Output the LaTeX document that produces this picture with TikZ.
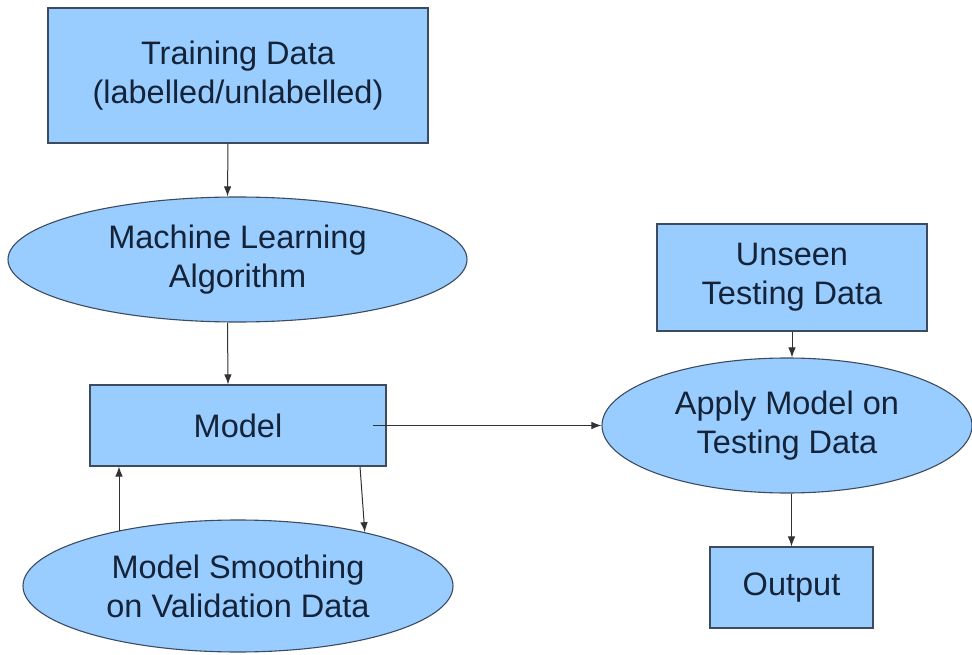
\documentclass[tikz,border=0pt]{standalone}
\usepackage{fontspec}
\setmainfont{Liberation Sans}
\usetikzlibrary{shapes.geometric,arrows.meta}
\definecolor{boxfill}{RGB}{153,204,255}
\definecolor{boxline}{RGB}{60,75,95}
\definecolor{txt}{RGB}{20,35,55}
\definecolor{arrline}{RGB}{50,50,50}
\begin{document}
\begin{tikzpicture}[x=1pt,y=-1pt,
  base/.style={draw=boxline,line width=1.1pt,fill=boxfill,text=txt,font=\fontsize{32.5}{39}\selectfont,align=center,inner sep=0pt},
  rbox/.style={base,rectangle},
  oval/.style={base,ellipse},
  arr/.style={draw=arrline,line width=1pt,-{Latex[length=10pt,width=7.5pt]}}]
\useasboundingbox (0,0) rectangle (972,655);
\node[rbox,minimum width=380pt,minimum height=135pt] (train) at (238,75.5) {Training Data\\(labelled/unlabelled)};
\node[oval,minimum width=459pt,minimum height=125pt] (ml) at (237.5,259.5) {Machine Learning\\Algorithm};
\node[rbox,minimum width=296pt,minimum height=81pt] (model) at (238,425.5) {Model};
\node[oval,minimum width=430pt,minimum height=132pt] (smooth) at (238,586) {Model Smoothing\\on Validation Data};
\node[rbox,minimum width=270pt,minimum height=107pt] (unseen) at (792,277.5) {Unseen\\Testing Data};
\node[oval,minimum width=370pt,minimum height=135pt] (apply) at (787,425.5) {Apply Model on\\Testing Data};
\node[rbox,minimum width=163pt,minimum height=81pt] (out) at (791.5,587.5) {Output};
\draw[arr] ([xshift=-10pt]train.south) -- ([xshift=-10pt]ml.north);
\draw[arr] ([xshift=-10pt]ml.south) -- ([xshift=-10pt]model.north);
\draw[arr] ([xshift=-14pt]model.east) -- (apply.west);
\draw[arr] (unseen.south) -- (unseen.south |- apply.north);
\draw[arr] (apply.south -| out.north) -- (out.north);
\draw[arr] (smooth.155) -- (smooth.155 |- model.south);
\draw[arr] ([xshift=122pt]model.south) -- (smooth.23);
\end{tikzpicture}
\end{document}
